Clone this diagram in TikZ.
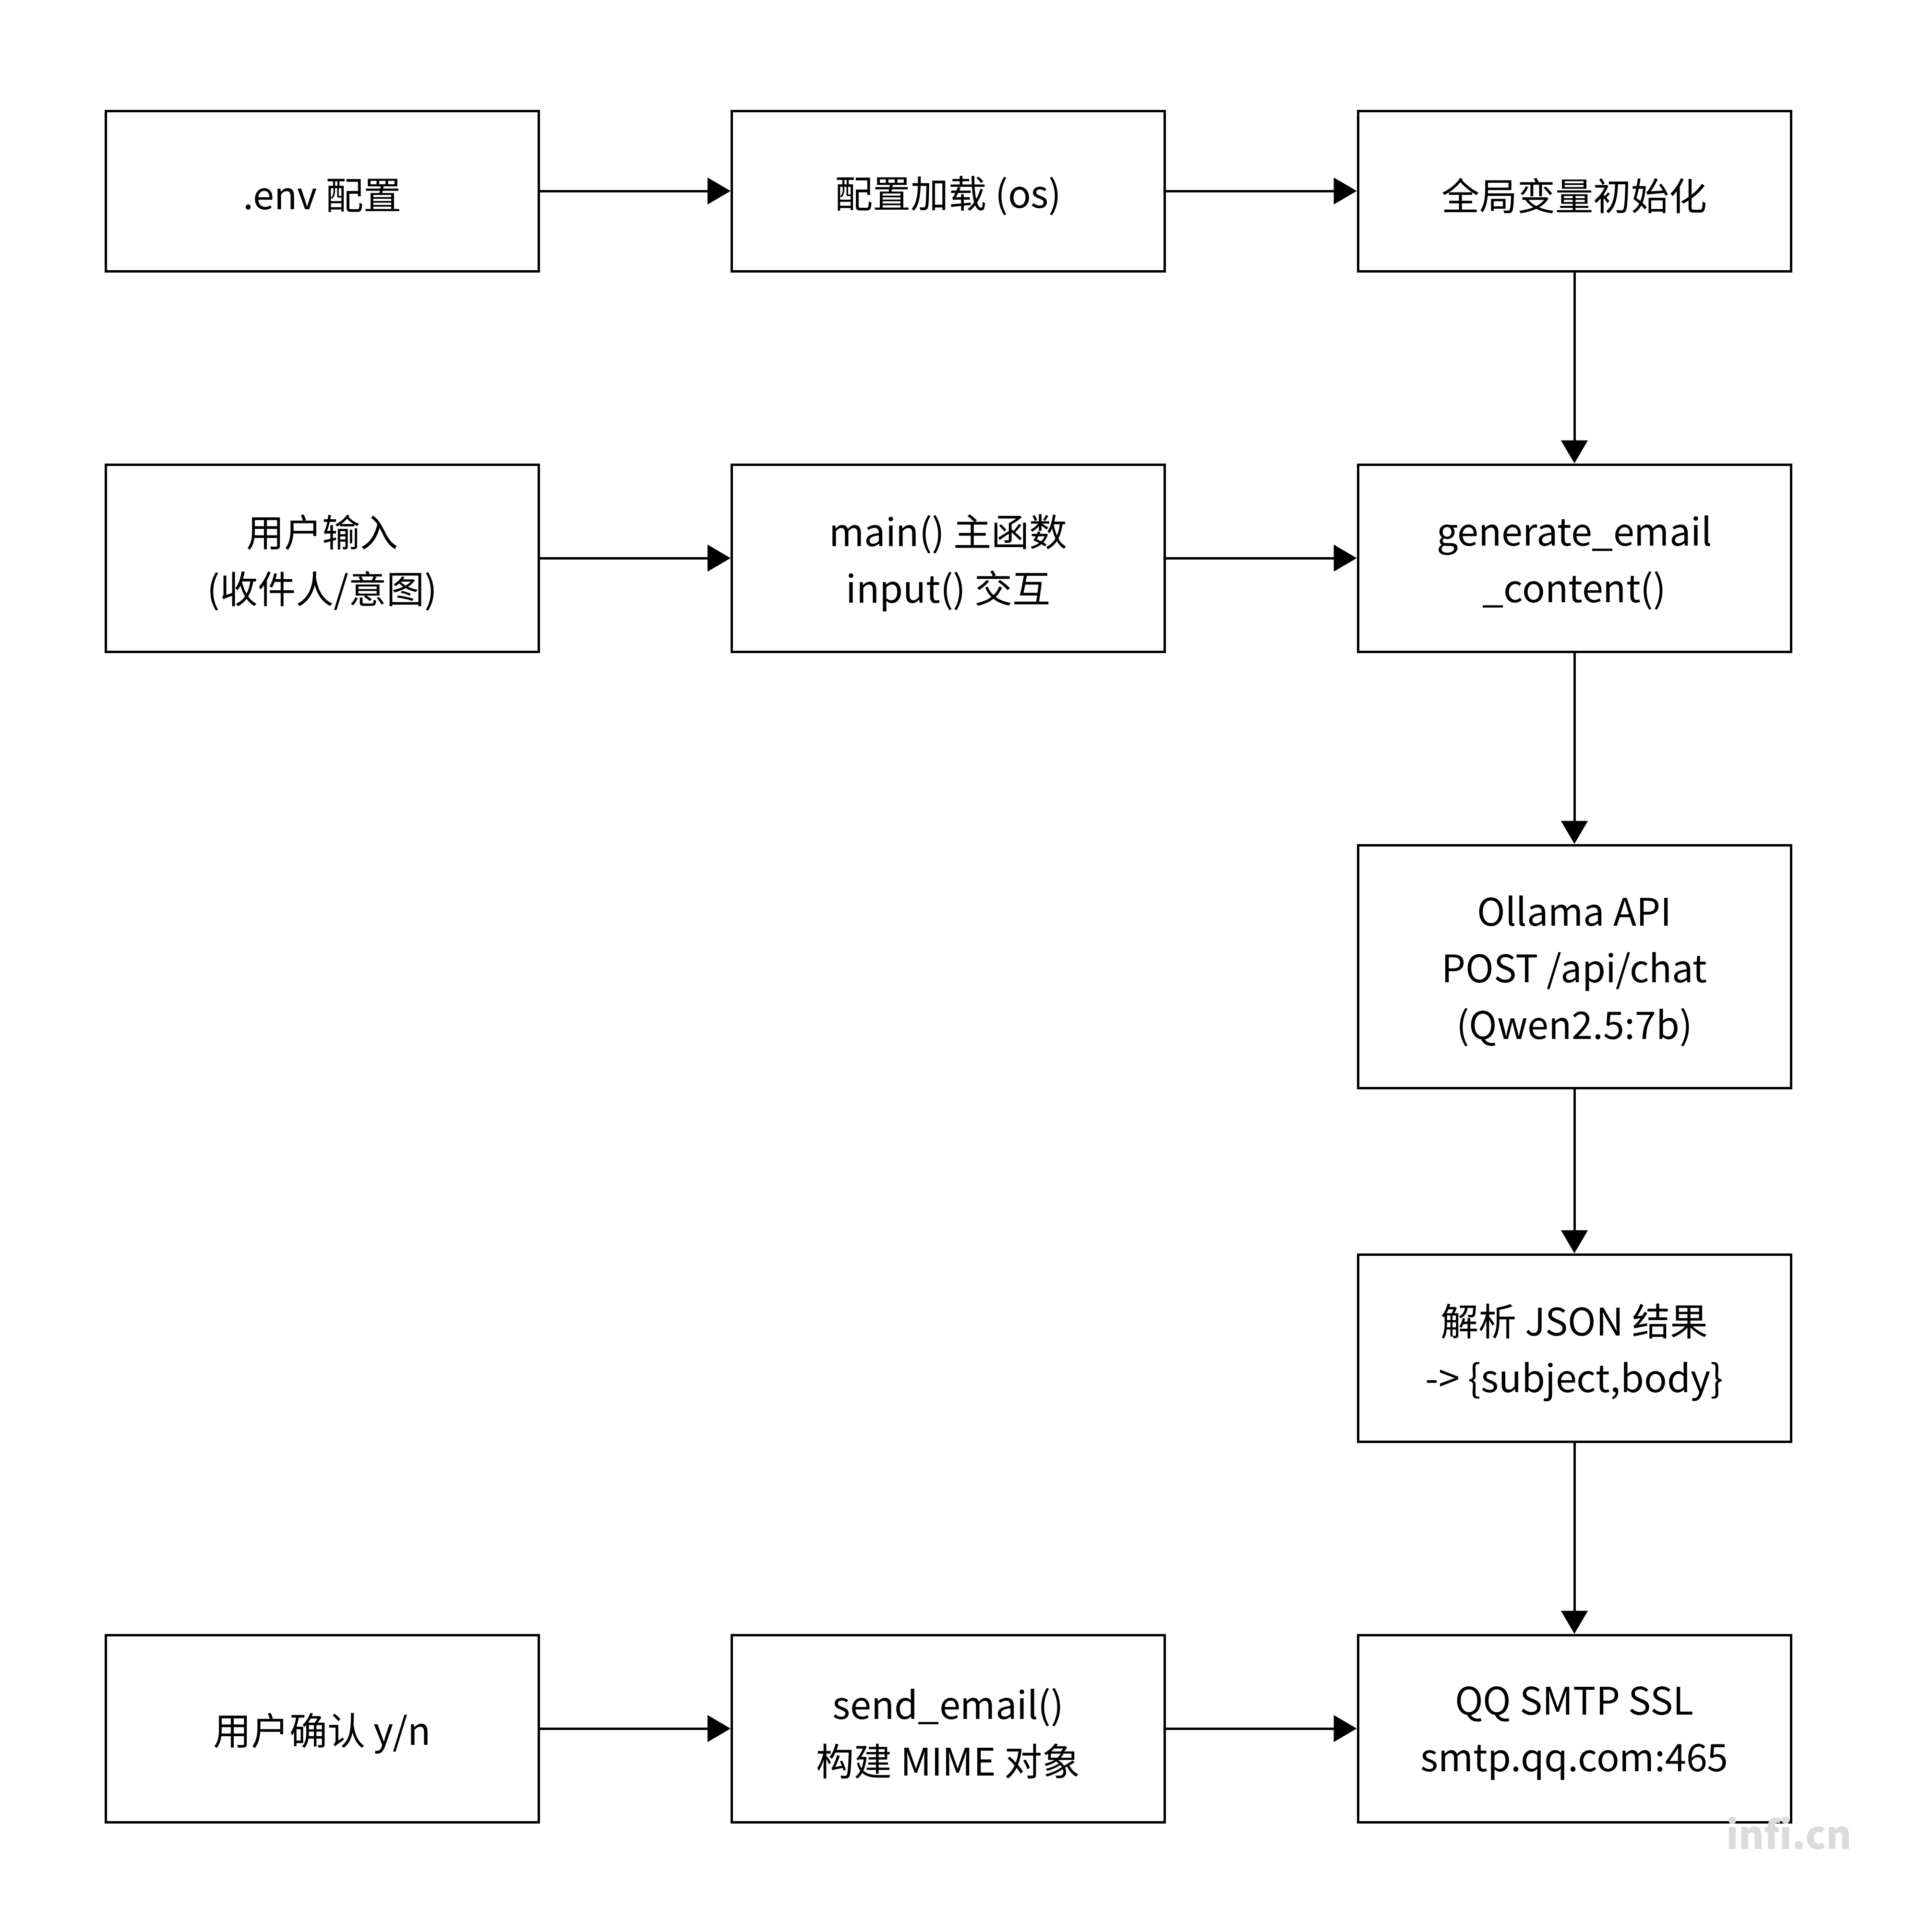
\documentclass[tikz,border=0pt]{standalone}
\usepackage{fontspec}
\setmainfont{Noto Sans CJK SC}
\usetikzlibrary{arrows.meta}
\begin{document}
\begin{tikzpicture}[
  box/.style={draw=black, line width=0.05cm, fill=white, inner sep=0pt,
    minimum width=9.02cm},
  txt/.style={inner sep=0pt, align=center, yshift=-0.1cm,
    font=\fontsize{22.5pt}{33.6pt}\selectfont},
  conn/.style={line width=0.05cm, -{Triangle[length=0.48cm, width=0.55cm]}}
]
\useasboundingbox[fill=white] (0,0) rectangle (39.74,-40.26);
% row 1
\node[box, minimum height=3.34cm, label={[txt]center:{.env 配置}}] (env) at (6.715,-3.98) {};
\node[box, minimum height=3.34cm, label={[txt]center:{配置加载 (os)}}] (load) at (19.755,-3.98) {};
\node[box, minimum height=3.34cm, label={[txt]center:{全局变量初始化}}] (glob) at (32.80,-3.98) {};
% row 2
\node[box, minimum height=3.90cm, label={[txt]center:{用户输入\\(收件人/意图)}}] (user) at (6.715,-11.63) {};
\node[box, minimum height=3.90cm, label={[txt]center:{main() 主函数\\input() 交互}}] (main) at (19.755,-11.63) {};
\node[box, minimum height=3.90cm, label={[txt]center:{generate\_email\\\_content()}}] (gen) at (32.80,-11.63) {};
% right column
\node[box, minimum height=5.06cm, label={[txt]center:{Ollama API\\POST /api/chat\\(Qwen2.5:7b)}}] (ollama) at (32.80,-20.14) {};
\node[box, minimum height=3.90cm, label={[txt]center:{解析 JSON 结果\\-> \{subject,body\}}}] (json) at (32.80,-28.09) {};
% bottom row
\node[box, minimum height=3.90cm, label={[txt]center:{用户确认 y/n}}] (confirm) at (6.715,-36.02) {};
\node[box, minimum height=3.90cm, label={[txt]center:{send\_email()\\构建 MIME 对象}}] (send) at (19.755,-36.02) {};
\node[box, minimum height=3.90cm, label={[txt]center:{QQ SMTP SSL\\smtp.qq.com:465}}] (smtp) at (32.80,-36.02) {};
% connectors
\draw[conn] (env) -- (load);
\draw[conn] (load) -- (glob);
\draw[conn] (glob) -- (gen);
\draw[conn] (user) -- (main);
\draw[conn] (main) -- (gen);
\draw[conn] (gen) -- (ollama);
\draw[conn] (ollama) -- (json);
\draw[conn] (json) -- (smtp);
\draw[conn] (confirm) -- (send);
\draw[conn] (send) -- (smtp);
% watermark
\node[text=black!14, font=\bfseries\fontsize{23pt}{23pt}\selectfont, inner sep=0pt] (wm) at (37.27,-38.20) {infi.cn};
\end{tikzpicture}
\end{document}
